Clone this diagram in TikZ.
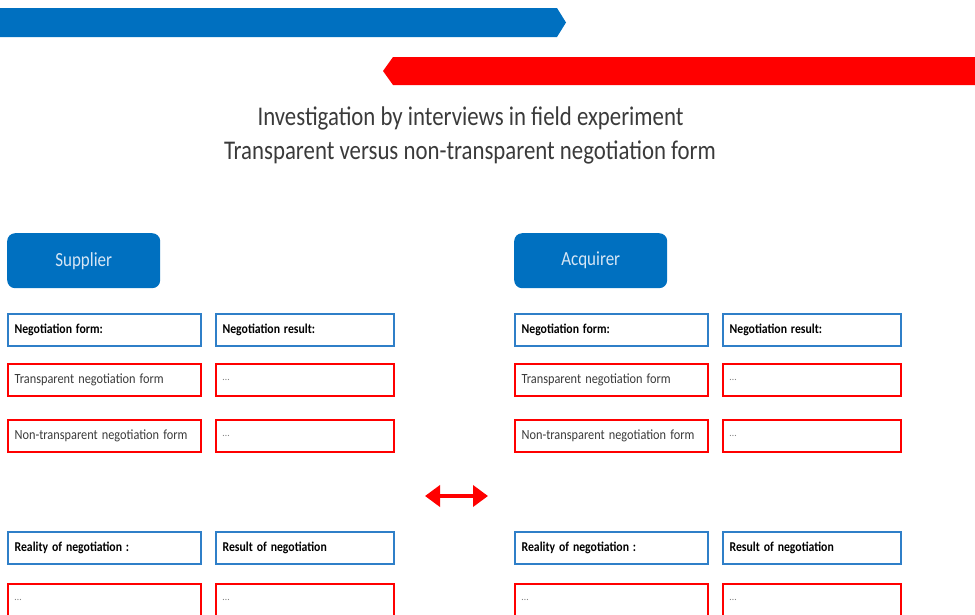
\documentclass[tikz,border=0pt]{standalone}
\usepackage{fontspec}
\usepackage{graphicx}
\setmainfont{Carlito}
\usetikzlibrary{arrows.meta}
\definecolor{barblue}{HTML}{0070C0}
\definecolor{boxblue}{HTML}{2F7FC8}
\definecolor{barred}{HTML}{FF0000}
\definecolor{txtgray}{HTML}{3A3A3A}
\definecolor{btntext}{HTML}{D6E6F5}
\newcommand{\cnd}[2]{\scalebox{#1}[1]{#2}}
\begin{document}
\begin{tikzpicture}[x=1pt,y=-1pt,
  cellA/.style={anchor=north west, line width=2.2pt, minimum height=32pt, text width=180pt, inner xsep=6.5pt, inner ysep=0pt, align=left},
  cellB/.style={anchor=north west, line width=2.2pt, minimum height=32pt, text width=165pt, inner xsep=6.5pt, inner ysep=0pt, align=left},
  hdr/.style={draw=boxblue, font=\bfseries\fontsize{13.5}{15}\selectfont, text=black},
  val/.style={draw=barred, font=\fontsize{14}{16}\selectfont, text=txtgray},
  dots/.style={draw=barred, font=\fontsize{10}{12}\selectfont, text=gray},
  btn/.style={anchor=north west, fill=barblue, rounded corners=8pt, minimum width=153pt, minimum height=55pt, text=btntext, font=\fontsize{20}{24}\selectfont},
  ttl/.style={text=txtgray, anchor=base, font=\fontsize{27}{32}\selectfont}]
\useasboundingbox (0,0) rectangle (975,614);
\clip (0,0) rectangle (975,614);
% bars
\fill[barblue] (0,8) -- (557,8) -- (566,22.5) -- (557,37) -- (0,37) -- cycle;
\fill[barred] (980,57) -- (393,57) -- (383,71) -- (393,85) -- (980,85) -- cycle;
% title
\node[ttl] (t1) at (470.5,125) {\cnd{0.845}{Investigation by interviews in field experiment}};
\node[ttl] (t2) at (470,159) {\cnd{0.845}{Transparent versus non-transparent negotiation form}};
% buttons
\node[btn] (s-btn) at (7,233) {\cnd{0.85}{Supplier}};
\node[btn] (a-btn) at (514,233) {\cnd{0.85}{Acquirer}};
% panels
\foreach \p/\dx in {s/0,a/507}{
  \node[cellA,hdr] (\p-nf) at (7+\dx,313) {\cnd{0.87}{Negotiation form:}};
  \node[cellB,hdr] (\p-nr) at (215+\dx,313) {\cnd{0.87}{Negotiation result:}};
  \node[cellA,val] (\p-tf) at (7+\dx,363) {\cnd{0.88}{Transparent negotiation form}};
  \node[cellB,dots] (\p-tr) at (215+\dx,363) {\ldots};
  \node[cellA,val] (\p-nt) at (7+\dx,419) {\cnd{0.88}{Non-transparent negotiation form}};
  \node[cellB,dots] (\p-ntr) at (215+\dx,419) {\ldots};
  \node[cellA,hdr] (\p-rn) at (7+\dx,531) {\cnd{0.87}{Reality of negotiation :}};
  \node[cellB,hdr] (\p-ro) at (215+\dx,531) {\cnd{0.87}{Result of negotiation}};
  \node[cellA,dots] (\p-rv) at (7+\dx,583) {\ldots};
  \node[cellB,dots] (\p-ov) at (215+\dx,583) {\ldots};
}
% double arrow
\coordinate (al) at (425,496);
\coordinate (ar) at (488,496);
\draw[barred, line width=4.5pt, {Triangle[length=15pt,width=21pt]}-{Triangle[length=15pt,width=21pt]}] (al) -- (ar);
\end{tikzpicture}
\end{document}
